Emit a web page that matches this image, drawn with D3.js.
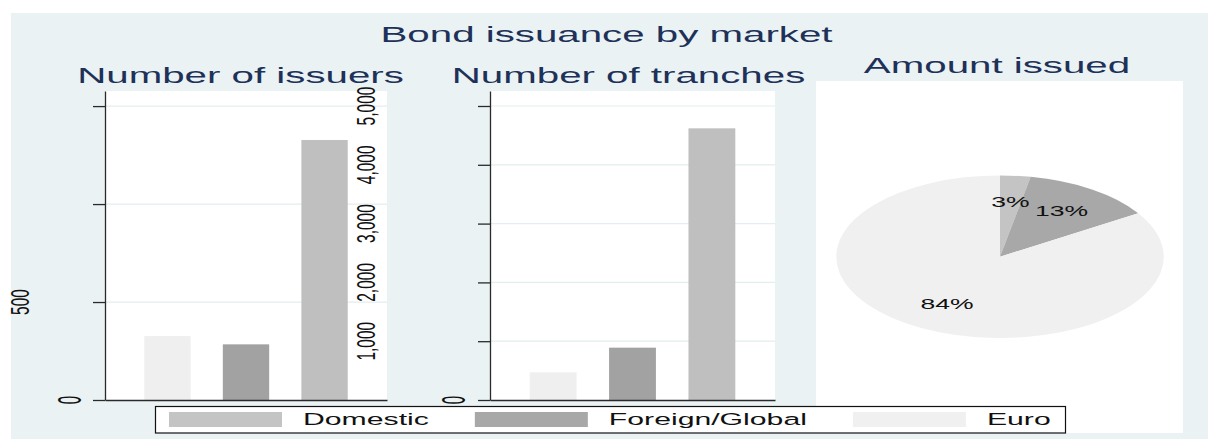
<!DOCTYPE html>
<html>
<head>
<meta charset="utf-8">
<script src="https://cdn.jsdelivr.net/npm/d3@7"></script>
<style>
  html, body { margin: 0; padding: 0; background: #ffffff; }
  svg { display: block; }
  text { font-family: "Liberation Sans", Arial, sans-serif; }
</style>
</head>
<body>
<svg id="chart" width="1208" height="439"></svg>
<script>
// ---- data ----
const barMarkets = ["Euro", "Foreign/Global", "Domestic"];
const issuers = [326, 284, 1327];
const tranches = [471, 890, 4620];

const legendMarkets = ["Domestic", "Foreign/Global", "Euro"];
const amountShare = [3, 13, 84];          // percent, same order as legendMarkets

const issuerTicks = [0, 500, 1000, 1500];
const issuerTickLabels = ["0", "500", "", ""];
const trancheTicks = [0, 1000, 2000, 3000, 4000, 5000];
const trancheTickLabels = ["0", "1,000", "2,000", "3,000", "4,000", "5,000"];

const chartTitle = "Bond issuance by market";
const panelTitles = ["Number of issuers", "Number of tranches", "Amount issued"];

// ---- styling ----
const barColor = { "Euro": "#efefef", "Foreign/Global": "#a2a2a2", "Domestic": "#bfbfbf" };
const sliceColor = { "Domestic": "#c4c4c4", "Foreign/Global": "#a8a8a8", "Euro": "#f0f0f0" };
const navy = "#1e3158";
const SX = 1.83;      // horizontal widening of the lettering
const SXR = 1.72;     // widening of the rotated tick labels

const svg = d3.select("#chart");

// graph region
svg.append("rect").attr("x", 11).attr("y", 13).attr("width", 1197).attr("height", 426).attr("fill", "#eaf2f3");

function hText(g, str, x, y, size, color, baseline) {
  g.append("text")
    .attr("transform", `translate(${x},${y}) scale(${SX},1)`)
    .attr("text-anchor", "middle")
    .attr("dominant-baseline", baseline || "alphabetic")
    .attr("font-size", size)
    .attr("fill", color)
    .text(str);
}
function vText(g, str, x, y, size, sx) {
  g.append("text")
    .attr("transform", `translate(${x},${y}) scale(${sx},1) rotate(-90)`)
    .attr("text-anchor", "middle")
    .attr("dominant-baseline", "central")
    .attr("font-size", size)
    .attr("fill", "#111")
    .text(str);
}

// titles
hText(svg, chartTitle, 606.5, 42, 22, navy);
hText(svg, panelTitles[0], 240.5, 83, 22, navy);
hText(svg, panelTitles[1], 628.5, 83, 22, navy);
hText(svg, panelTitles[2], 997, 73, 22, navy);

// ---- bar panels ----
function barPanel(cfg) {
  const g = svg.append("g");
  const y = d3.scaleLinear().domain([0, cfg.yMax]).range([400, 91]);
  const x = d3.scaleBand().domain(barMarkets).range([cfg.plotX0, cfg.plotX1])
    .paddingInner(0.41).paddingOuter(0.5);

  // plot region
  g.append("rect").attr("x", cfg.plotX0).attr("y", 91)
    .attr("width", cfg.plotX1 - cfg.plotX0).attr("height", 309).attr("fill", "#ffffff");

  // grid
  g.selectAll("line.grid").data(cfg.ticks.filter(t => t > 0)).join("line")
    .attr("x1", cfg.plotX0).attr("x2", cfg.plotX1)
    .attr("y1", d => y(d)).attr("y2", d => y(d))
    .attr("stroke", "#e4edef").attr("stroke-width", 1.2);

  // bars
  g.selectAll("rect.bar").data(cfg.values).join("rect")
    .attr("x", (d, i) => x(barMarkets[i]))
    .attr("width", x.bandwidth())
    .attr("y", d => y(d))
    .attr("height", d => y(0) - y(d))
    .attr("fill", (d, i) => barColor[barMarkets[i]]);

  // axes
  const yAxis = d3.axisLeft(y).tickValues(cfg.ticks).tickSize(12).tickSizeOuter(0).tickFormat("");
  const ya = g.append("g").attr("transform", `translate(${cfg.plotX0},0)`).call(yAxis);
  ya.selectAll("path,line").attr("stroke", "#2a2a2a").attr("stroke-width", 1.3);

  const xAxis = d3.axisBottom(x).tickSize(0).tickSizeOuter(0).tickFormat("");
  const xa = g.append("g").attr("transform", "translate(0,400)").call(xAxis);
  xa.select("path").attr("stroke", "#2a2a2a").attr("stroke-width", 1.3);

  // tick labels
  cfg.ticks.forEach((t, i) => {
    const lab = cfg.labels[i];
    if (!lab) return;
    if (t === 0) vText(g, lab, cfg.zeroLabelX, y(t), 15, SXR * 1.3);
    else vText(g, lab, cfg.labelX, y(t), 15.5, SXR);
  });
}

barPanel({ values: issuers, yMax: 1577, ticks: issuerTicks, labels: issuerTickLabels,
  plotX0: 105, plotX1: 387, labelX: 20, zeroLabelX: 69 });
barPanel({ values: tranches, yMax: 5255, ticks: trancheTicks, labels: trancheTickLabels,
  plotX0: 490, plotX1: 775, labelX: 366, zeroLabelX: 453 });

// ---- pie panel ----
svg.append("rect").attr("x", 816).attr("y", 81).attr("width", 367).attr("height", 352).attr("fill", "#ffffff");

const cx = 1000, cy = 256.7, rx = 163.7, ry = 81.3;
const pie = d3.pie().sort(null).value(d => d)(amountShare);
const arc = d3.arc().innerRadius(0).outerRadius(rx);
const labelArc = d3.arc().innerRadius(rx * 0.67).outerRadius(rx * 0.67);

const pg = svg.append("g").attr("transform", `translate(${cx},${cy}) scale(1,${ry / rx})`);
pg.selectAll("path").data(pie).join("path")
  .attr("d", arc)
  .attr("fill", (d, i) => sliceColor[legendMarkets[i]]);

const lg = svg.append("g");
pie.forEach((d, i) => {
  const c = labelArc.centroid(d);
  hText(lg, amountShare[i] + "%", cx + c[0], cy + c[1] * ry / rx, 14.5, "#111", "central");
});

// ---- legend ----
const leg = svg.append("g");
leg.append("rect").attr("x", 155.5).attr("y", 406.5).attr("width", 910).attr("height", 26.5)
  .attr("fill", "#ffffff").attr("stroke", "#111").attr("stroke-width", 1.2);

const textWidths = legendMarkets.map(m => {
  const t = leg.append("text").attr("font-size", 16.5).text(m);
  const w = t.node().getComputedTextLength() * SX;
  t.remove();
  return w;
});
let lx = 169;
legendMarkets.forEach((m, i) => {
  leg.append("rect").attr("x", lx).attr("y", 412).attr("width", 113).attr("height", 15)
    .attr("fill", sliceColor[m]);
  const tx = lx + 113 + 21;
  hText(leg, m, tx + textWidths[i] / 2, 425, 16.5, "#111");
  lx = tx + textWidths[i] + 46;
});
</script>
</body>
</html>
